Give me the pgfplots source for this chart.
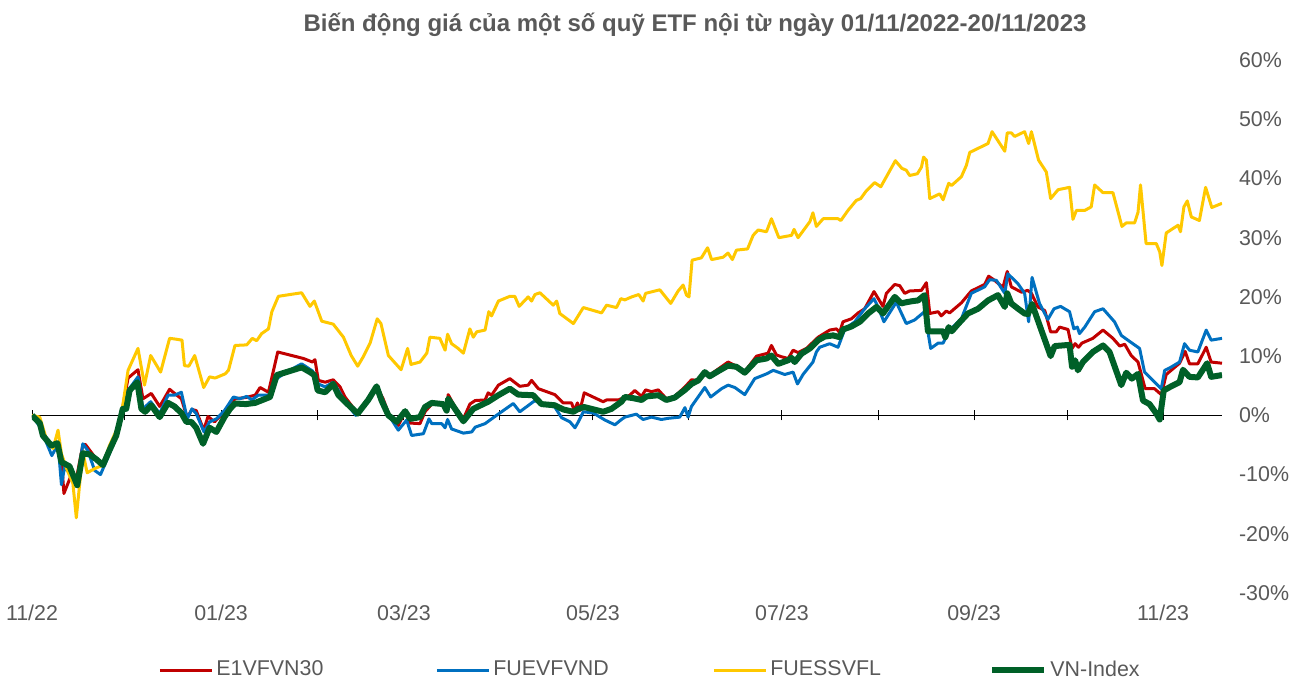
\documentclass[border=0pt]{standalone}
\usepackage{pgfplots}
\pgfplotsset{compat=1.18}
\usepackage{fontspec}
\setmainfont{Liberation Sans}
\definecolor{cred}{RGB}{192,0,0}
\definecolor{cblue}{RGB}{0,112,192}
\definecolor{cyellow}{RGB}{255,200,0}
\definecolor{cgreen}{RGB}{0,96,40}
\definecolor{labelgray}{RGB}{89,89,89}
\begin{document}
\begin{tikzpicture}[x=1pt,y=1pt]
% zero line with monthly ticks
\begin{axis}[at={(16pt,44pt)}, anchor=south west, scale only axis,
  width=595pt, height=266.5pt, xmin=0, xmax=384, ymin=-30, ymax=60,
  axis x line=middle, axis y line=none,
  every inner x axis line/.append style={-},
  x axis line style={-, black, line width=0.7pt},
  xtick={0,30,61,92,120,151,181,212,242,273,304,334,365}, xticklabels={},
  xtick align=center, major tick length=5pt,
  tick style={black, line width=0.5pt}]
\end{axis}
\begin{axis}[at={(16pt,44pt)}, anchor=south west, scale only axis,
  width=595pt, height=266.5pt, xmin=0, xmax=384, ymin=-30, ymax=60,
  axis line style={draw=none}, major tick length=0pt,
  ytick={-30,-20,-10,0,10,20,30,40,50,60},
  yticklabels={-30\%,-20\%,-10\%,0\%,10\%,20\%,30\%,40\%,50\%,60\%},
  yticklabel pos=right,
  xtick={0,61,120,181,242,304,365},
  xticklabels={11/22,01/23,03/23,05/23,07/23,09/23,11/23},
  tick label style={text=labelgray, font=\fontsize{10.7}{12}\selectfont},
  yticklabel style={anchor=west, xshift=5pt},
  xticklabel style={anchor=north, yshift=-2.5pt},
  legend columns=4,
  legend style={at={(axis description cs:0.1059,-0.1445)}, anchor=west,
    draw=none, fill=none, inner sep=0pt, column sep=0pt,
    nodes={inner sep=1.5pt},
    font=\fontsize{10.7}{12}\selectfont, text=labelgray},
  legend image code/.code={\draw[#1] (0pt,0pt) -- (26pt,0pt);},
  every axis plot/.append style={line join=round, mark=none}]
\addplot[color=cred, line width=1.5pt] coordinates {
(0,0) (2.5,-1.1) (3.5,-3.1) (6.2,-5.1) (8.2,-4.9) (9.5,-7.3) (10.3,-13.2) (12.5,-10.3) (14.3,-10.8) (16.4,-5.0) (17.2,-4.9) (20.2,-7.0) (22.9,-8.4) (25.0,-5.9) (27.2,-3.4) (29.3,1.4) (31.0,6.3) (34.2,7.7) (35.8,2.8) (38.5,3.7) (41.2,1.5) (44.4,4.4) (46.5,3.5) (48.2,2.8) (50.1,-0.4) (51.6,1.0) (53.0,0.8) (55.4,-2.5) (56.8,-0.2) (58.9,-1.1) (62.1,0.6)
(63.9,1.7) (65.5,2.8) (68.8,3.0) (72.0,3.4) (73.6,4.7) (76.3,3.9) (79.3,10.7) (87.6,9.6) (90.5,9.0) (91.3,9.4) (92.4,5.9) (94.6,5.6) (97.2,6.0) (99.4,4.8) (101.0,3.1) (105.1,0.3) (108.5,2.8) (111.2,4.9) (113.3,2.8) (115.5,-0.3) (118.2,-1.7) (120.4,0.6) (122.0,-1.3) (125.2,-1.4) (126.8,0.6)
(129.0,1.9) (132.7,2.0) (133.8,0.6) (134.3,3.5) (136.5,1.4) (139.2,-0.6) (141.3,1.9) (143.0,2.5) (146.2,2.6) (147.2,3.8) (148.3,3.4) (150.5,5.1) (154.2,6.2) (157.4,4.9) (160.1,5.1) (161.2,5.9) (163.4,4.5) (168.7,3.5) (171.4,2.1) (174.1,2.1) (175.0,0.8) (176.0,2.1) (176.8,0.8) (178.2,3.8) (184.3,2.3) (185.4,2.6) (189.2,2.6) (192.9,3.4)
(194.5,4.2) (196.7,3.2) (198.0,4.3) (199.9,4.0) (202.1,4.3) (204.7,2.8) (207.4,3.2) (210.7,4.8) (212.8,6.0) (215.0,5.9) (217.1,7.3) (218.7,6.8) (224.6,9.0) (227.3,8.3) (230.0,7.4) (233.8,10.0) (237.5,10.5) (238.6,11.8) (240.2,10.2) (241.8,9.9) (244.0,9.6) (245.6,11.0) (247.2,10.6) (249.9,11.3) (253.7,13.2) (257.4,14.4)
(259.6,14.6) (260.6,14.0) (261.7,15.8) (264.4,16.3) (266.6,17.3) (268.7,18.0) (271.7,20.9) (274.6,18.4) (275.7,20.6) (278.4,22.1) (280.0,21.9) (281.6,20.6) (283.2,21.0) (287.0,21.1) (288.6,22.4) (289.7,17.2) (292.4,17.5) (293.4,16.8) (295.0,17.6) (296.1,17.3) (299.9,19.0) (303.1,21.0) (307.4,22.1) (308.7,23.5) (310.6,22.8) (313.3,21.6) (314.7,24.3) (316.0,21.7) (319.3,20.8) (321.3,21.1)
(322.5,20.6) (324.6,18.3) (326.8,17.7) (328.7,14.1) (330.5,14.1) (331.6,14.9) (334.3,14.5) (335.6,11.3) (336.6,12.1) (337.7,11.5) (338.8,12.2) (342.3,13.0) (345.6,14.4) (348.8,13.0) (351.0,11.7) (352.6,12.0) (354.7,10.1) (356.9,9.0) (359.2,4.5) (362.2,4.5) (364.4,3.5) (366.0,6.9) (370.3,8.8) (372.1,10.8) (373.5,8.7) (376.2,8.7) (378.9,11.5) (380.5,9.0) (384.0,8.8)
};
\addlegendentry{\makebox[108pt][l]{E1VFVN30}}
\addplot[color=cblue, line width=1.5pt] coordinates {
(0,0) (2.5,-1.9) (4.1,-3.9) (6.4,-6.8) (8.4,-4.8) (9.5,-11.7) (10.5,-8.8) (12.5,-9.9) (14.6,-11.5) (16.4,-4.8) (18.0,-5.9) (20.2,-9.3) (22.1,-10.0) (24.5,-7.1) (27.2,-3.6) (29.3,0.8) (31.0,4.2) (34.2,6.5) (35.8,1.1) (38.3,2.3) (41.2,0.3) (43.9,3.4) (46.0,3.4) (48.2,3.9) (50.1,-0.6) (51.6,1.1) (53.0,0.3) (55.5,-2.8) (57.3,-1.1) (59.5,-0.6) (62.1,0.8)
(65.0,3.1) (67.1,2.8) (69.3,3.2) (70.9,2.6) (73.0,3.4) (76.8,3.4) (79.0,6.2) (81.7,7.2) (87.0,8.7) (90.5,7.5) (92.4,5.3) (94.6,4.8) (97.2,5.6) (98.9,4.2) (101.0,2.3) (104.5,0) (108.5,2.5) (111.2,4.8) (113.3,2.5) (115.5,-0.3) (118.2,-2.5) (120.9,-0.8) (122.5,-3.4) (126.3,-3.1)
(126.8,-2.4) (128.1,-0.6) (129.0,-1.4) (132.2,-1.4) (133.3,-2.1) (134.1,-0.7) (135.4,-2.3) (139.2,-3.0) (141.9,-2.8) (143.0,-2.0) (146.2,-1.4) (149.9,0) (155.3,2.0) (157.4,0.6) (162.3,2.5) (164.4,1.9) (168.7,1.4) (170.9,-0.4) (173.6,-1.1) (175.2,-2.1) (176.3,-1.1) (177.9,0.6) (181.1,0.4) (184.9,-0.8) (188.1,-1.6) (190.2,-0.7)
(191.3,-0.3) (195.0,0.2) (197.2,-0.7) (199.9,-0.3) (203.1,-0.7) (205.3,-0.5) (209.0,-0.3) (210.7,1.3) (211.7,-0.3) (212.8,1.5) (217.1,4.7) (219.0,3.1) (222.5,4.5) (224.6,5.1) (226.8,4.7) (230.0,3.5) (233.2,6.2) (237.0,7.0) (239.2,7.6) (242.9,6.9) (245.6,7.3) (247.0,5.3) (248.8,6.9) (252.0,9.0) (253.1,10.7) (254.2,11.5) (257.4,12.1)
(260.1,11.5) (262.3,14.6) (265.5,15.8) (268.7,18.0) (271.7,19.7) (273.0,18.3) (274.9,15.8) (278.9,19.1) (282.1,15.5) (284.8,16.1) (288.0,17.5) (290.0,11.3) (292.4,12.2) (294.0,12.2) (296.1,14.4) (299.9,16.3) (303.1,20.6) (307.4,21.7) (309.0,22.9) (311.2,22.8) (313.9,20.6) (314.9,23.9) (318.2,22.2) (320.3,20.6) (321.6,15.8)
(322.7,23.3) (325.1,18.9) (327.8,16.2) (329.8,18.0) (331.9,18.4) (334.8,17.5) (336.2,14.6) (337.3,14.9) (338.0,13.8) (339.7,14.9) (342.9,17.5) (345.6,18.0) (349.3,15.8) (351.5,13.5) (353.6,12.7) (357.4,11.3) (359.0,7.3) (364.4,4.5) (365.5,7.6) (367.1,8.0) (370.3,9.0) (371.9,12.1) (373.5,11.0) (376.2,10.7) (378.9,14.4) (380.5,12.7) (384.0,13.0)
};
\addlegendentry{\makebox[108pt][l]{FUEVFVND}}
\addplot[color=cyellow, line width=1.5pt] coordinates {
(0,0) (2.5,-0.3) (4.6,-3.9) (6.8,-5.6) (8.4,-2.5) (9.5,-6.5) (11.4,-9.3) (13.2,-11.5) (14.3,-17.3) (16.4,-6.2) (17.8,-9.7) (20.2,-9.0) (22.9,-8.4) (25.0,-5.1) (27.7,-2.0) (29.3,1.7) (31.0,7.6) (34.2,11.3) (36.3,5.1) (38.3,10.1) (41.5,7.3) (44.4,13.0) (46.0,12.9) (48.4,12.7) (49.2,8.4) (50.6,8.3) (52.5,10.1) (55.4,4.7) (57.3,6.5) (59.1,6.3) (62.3,7.0) (63.4,7.6)
(65.5,11.8) (69.3,11.9) (71.1,13.0) (72.5,12.6) (74.1,13.8) (76.3,14.6) (77.4,17.5) (79.5,20.1) (87.0,20.7) (89.7,18.4) (91.1,19.3) (93.5,15.9) (97.2,15.4) (100.5,13.2) (103.0,10.1) (105.1,8.3) (106.9,9.9) (109.1,12.2) (111.4,16.3) (112.6,15.5) (115.0,10.1) (119.1,7.7) (121.2,11.3) (122.3,8.6) (125.2,9.0) (127.4,10.5)
(128.4,13.2) (131.6,13.0) (133.3,11.0) (134.1,13.7) (135.4,12.1) (137.5,11.3) (139.2,10.5) (141.3,14.6) (142.4,13.2) (143.5,14.1) (146.2,14.4) (147.4,17.5) (148.3,16.8) (150.5,19.3) (154.2,20.1) (155.8,20.1) (157.2,18.4) (160.1,20.0) (161.2,19.3) (162.3,20.4) (163.9,20.7) (168.2,18.6) (169.3,19.3) (170.3,17.2) (174.7,15.5) (177.9,18.2) (183.8,17.3) (185.4,18.6) (188.6,18.2) (190.0,19.7)
(191.3,19.5) (193.5,20.0) (195.8,20.4) (197.2,19.3) (198.0,20.6) (202.6,21.2) (206.1,18.9) (208.5,21.0) (210.1,22.0) (211.2,20.3) (212.0,20.0) (213.0,26.2) (216.0,26.6) (218.0,28.3) (219.3,26.3) (223.0,26.7) (224.6,27.4) (226.0,26.3) (227.3,27.9) (230.9,28.1) (232.7,30.4) (234.3,31.3) (237.0,31.0) (238.6,33.2) (241.0,30.0) (245.1,30.4) (245.9,31.4) (247.2,30.0) (251.0,32.7) (252.0,34.2) (253.1,31.9) (255.3,33.2)
(260.1,33.2) (261.0,32.9) (263.3,34.6) (266.0,36.3) (267.4,36.6) (269.2,37.9) (271.9,39.3) (273.9,38.6) (278.6,43.0) (280.7,41.7) (282.1,41.4) (283.2,40.5) (285.7,40.8) (287.0,41.9) (287.7,43.6) (288.6,43.1) (289.7,36.6) (292.9,37.4) (294.0,36.4) (295.8,39.2) (296.7,38.8) (299.9,40.3) (301.5,42.2) (302.6,44.4) (308.5,45.9) (309.8,47.9) (313.9,44.6) (314.7,47.7) (316.0,47.7) (317.1,47.1) (320.3,47.9) (321.6,45.9) (322.5,47.9)
(324.8,43.1) (327.3,41.1) (328.7,36.6) (331.1,38.1) (334.8,38.5) (335.9,33.1) (337.0,34.6) (339.7,34.6) (341.8,35.2) (342.9,38.9) (345.6,37.6) (348.8,37.6) (351.7,31.9) (353.1,32.5) (355.8,32.5) (356.9,34.3) (357.7,38.9) (359.5,29.0) (362.8,29.0) (363.9,27.6) (364.6,25.3) (366.0,30.8) (369.8,32.1) (370.6,31.0) (371.7,35.2) (372.8,36.2) (374.1,33.5) (376.7,32.9) (378.7,38.5) (380.7,35.1) (384.0,35.8)
};
\addlegendentry{\makebox[108pt][l]{FUESSVFL}}
\addplot[color=cgreen, line width=3pt] coordinates {
(0,0) (2.5,-1.3) (3.5,-3.4) (6.2,-5.1) (8.2,-4.7) (9.5,-7.9) (12.1,-8.6) (14.6,-11.8) (16.4,-6.4) (18.6,-6.6) (20.7,-7.4) (22.9,-8.4) (25.0,-5.9) (27.2,-3.4) (29.3,1.1) (30.4,1.1) (31.5,4.2) (34.0,5.6) (35.3,1.1) (36.5,0.6) (38.5,1.7) (41.2,-0.3) (43.9,2.1) (46.0,1.5) (48.2,0.4) (49.8,-1.1) (51.4,-1.1) (53.0,-2.1) (55.2,-4.8) (57.3,-2.1) (59.5,-2.8) (62.1,-0.3)
(63.9,1.1) (65.5,2.0) (69.0,1.9) (72.0,2.1) (76.8,3.1) (79.0,6.8) (83.3,7.5) (87.0,8.1) (89.7,7.3) (91.1,6.8) (92.2,4.2) (94.6,3.9) (97.2,5.3) (98.9,3.4) (101.0,2.3) (105.1,0.3) (108.5,2.6) (111.2,4.9) (112.8,2.5) (115.0,0) (117.7,-1.1) (120.4,0.7) (122.0,-0.6) (125.2,-0.3)
(126.8,1.4) (129.0,2.1) (132.7,1.9) (133.8,0.8) (134.3,2.8) (136.5,1.1) (139.2,-1.0) (142.4,1.1) (147.2,2.3) (150.5,3.4) (154.2,4.5) (156.9,3.5) (161.7,3.4) (164.4,1.9) (168.7,1.7) (171.4,1.0) (174.7,0.6) (176.3,1.1) (178.2,1.4) (184.3,0.6) (187.0,1.1) (190.2,2.3)
(191.3,3.1) (194.0,2.9) (196.7,2.6) (198.3,3.2) (202.1,3.4) (204.7,2.6) (207.4,3.0) (210.7,4.3) (212.8,5.3) (215.0,5.9) (217.1,7.3) (218.7,6.6) (221.9,7.6) (224.6,8.4) (227.3,8.2) (230.0,7.2) (233.8,9.3) (237.0,9.6) (238.6,10.1) (240.8,8.7) (244.0,9.3) (245.1,9.7) (246.1,9.0) (248.3,10.4) (251.0,11.3) (253.7,12.7)
(255.8,13.3) (258.5,13.5) (260.6,13.2) (261.7,14.5) (264.4,15.0) (267.1,15.8) (269.8,17.2) (272.5,18.3) (274.6,17.2) (278.4,20.0) (280.5,18.9) (282.1,19.1) (284.3,19.3) (285.9,19.4) (288.0,20.3) (289.1,14.2) (291.3,14.2) (294.0,14.2) (294.7,13.2) (295.8,14.9) (296.8,14.2) (298.8,15.4) (302.0,17.2) (305.3,18.0) (308.5,19.4) (311.7,20.3) (313.9,18.3) (314.7,20.6) (316.0,18.9) (318.2,18.0)
(320.3,17.2) (321.4,17.1) (322.7,18.8) (324.6,16.0) (328.7,10.0) (330.0,11.7) (334.8,11.9) (335.6,8.2) (336.6,9.3) (337.5,7.6) (339.1,9.0) (342.3,10.7) (345.6,11.8) (347.7,10.7) (351.5,5.1) (353.1,7.2) (354.9,6.2) (356.9,7.0) (358.5,2.5) (360.6,1.9) (362.8,0.3) (363.9,-0.7) (365.2,4.2) (367.6,4.9) (370.3,5.6) (371.4,7.7) (373.5,6.5) (376.2,6.4) (379.2,8.8) (380.5,6.5) (384.0,6.8)
};
\addlegendentry{VN-Index}
\end{axis}
\node[font=\bfseries\fontsize{12}{14}\selectfont, text=labelgray, anchor=base] at (347.5pt,324.5pt) {Biến động giá của một số quỹ ETF nội từ ngày 01/11/2022-20/11/2023};
\pgfresetboundingbox
\path[use as bounding box] (0pt,0pt) rectangle (647pt,340.5pt);
\end{tikzpicture}
\end{document}
